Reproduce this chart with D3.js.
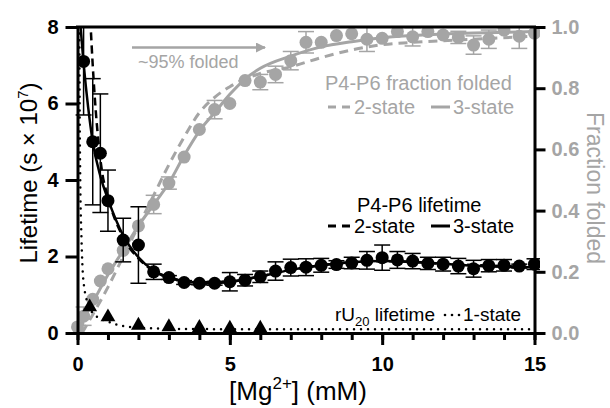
<!DOCTYPE html>
<html>
<head>
<meta charset="utf-8">
<script src="https://cdn.jsdelivr.net/npm/d3@7"></script>
<style>
  body { margin: 0; background: #fff; }
  svg { font-family: "Liberation Sans", Arial, sans-serif; }
</style>
</head>
<body>
<svg id="chart" width="610" height="408"></svg>
<script>
// P4-P6 lifetime data points (s x 10^7)
let lifeMg = [0.2, 0.5, 0.75, 1, 1.5, 2, 2.5, 3, 3.5, 4, 4.5, 5, 5.5, 6, 6.5, 7, 7.5, 8,
  8.5, 9, 9.5, 10, 10.5, 11, 11.5, 12, 12.5, 13, 13.5, 14, 14.5, 15];
let lifeVal = [7.1, 5.0, 4.7, 3.46, 2.43, 2.30, 1.60, 1.45, 1.32, 1.30, 1.30, 1.34, 1.38, 1.47,
  1.62, 1.71, 1.72, 1.77, 1.79, 1.83, 1.90, 1.97, 1.91, 1.88, 1.82, 1.80, 1.75, 1.68, 1.76,
  1.77, 1.75, 1.80];
let lifeErr = [1.4, 1.65, 1.55, 0.8, 0.57, 1.0, 0.2, 0.05, 0.05, 0.04, 0.05, 0.24, 0.15, 0.15,
  0.24, 0.22, 0.22, 0.18, 0.1, 0.15, 0.23, 0.33, 0.22, 0.2, 0.16, 0.18, 0.2, 0.22, 0.16,
  0.15, 0.05, 0.14];

// P4-P6 fraction folded data points
let fracMg = [0, 0.2, 0.5, 0.75, 1, 1.5, 2, 2.5, 3, 3.5, 4, 4.5, 5, 5.5, 6, 6.5, 7, 7.5, 8,
  8.5, 9, 9.5, 10, 10.5, 11, 11.5, 12, 12.5, 13, 13.5, 14, 14.5, 15];
let fracVal = [0.02, 0.055, 0.11, 0.17, 0.21, 0.27, 0.35, 0.42, 0.49, 0.575, 0.665, 0.73, 0.75,
  0.825, 0.82, 0.845, 0.89, 0.95, 0.95, 0.972, 0.978, 0.96, 0.963, 0.985, 0.968, 0.985,
  0.974, 0.966, 0.941, 0.96, 0.99, 0.97, 0.98];
let fracErr = [0, 0.03, 0, 0, 0, 0, 0, 0.03, 0.02, 0, 0, 0.03, 0, 0, 0.025, 0.027, 0.03, 0.035,
  0, 0, 0, 0.04, 0, 0, 0.03, 0, 0, 0.02, 0.03, 0.03, 0, 0.04, 0];

// rU20 lifetime data points
let rUMg = [0.4, 1, 2, 3, 4, 5, 6];
let rUVal = [0.68, 0.42, 0.2, 0.16, 0.14, 0.12, 0.12];

// fitted curves
let life3X = [0.08, 0.2, 0.35, 0.5, 0.75, 1, 1.5, 2, 2.5, 3, 3.5, 4, 4.5, 5, 6, 7, 8, 9, 10,
  11, 12, 13, 14, 15];
let life3Y = [8.2, 7.05, 5.9, 5.0, 4.1, 3.5, 2.55, 1.98, 1.63, 1.45, 1.35, 1.31, 1.30, 1.33,
  1.48, 1.65, 1.77, 1.85, 1.88, 1.86, 1.81, 1.76, 1.73, 1.72];
let life2X = [0.42, 0.5, 0.6, 0.7, 0.8, 1, 1.5, 2, 2.5, 3, 4, 5, 6, 7, 8, 10, 12, 15];
let life2Y = [8.2, 7.0, 5.8, 4.9, 4.25, 3.55, 2.5, 1.95, 1.62, 1.45, 1.33, 1.35, 1.48, 1.65,
  1.77, 1.88, 1.81, 1.72];
let rU1X = [0.06, 0.07, 0.09, 0.13, 0.19, 0.35, 0.6, 1, 1.5, 2, 3, 5, 8, 15];
let rU1Y = [8.2, 6, 4, 2.5, 1.4, 0.75, 0.45, 0.3, 0.18, 0.14, 0.11, 0.1, 0.1, 0.1];
let frac3X = [0, 0.5, 1, 1.5, 2, 2.5, 3, 3.5, 4, 4.5, 5, 5.5, 6, 7, 8, 9, 10, 11, 12, 13, 15];
let frac3Y = [0.01, 0.1, 0.19, 0.27, 0.35, 0.42, 0.49, 0.58, 0.66, 0.72, 0.78, 0.83, 0.865,
  0.905, 0.935, 0.952, 0.965, 0.972, 0.977, 0.98, 0.985];
let frac2X = [0.15, 0.5, 1, 1.5, 2, 2.5, 3, 3.5, 4, 4.5, 5, 5.5, 6, 7, 8, 9, 10, 11, 12, 13, 15];
let frac2Y = [0, 0.06, 0.15, 0.25, 0.35, 0.45, 0.55, 0.64, 0.72, 0.77, 0.805, 0.83, 0.848,
  0.87, 0.9, 0.925, 0.942, 0.95, 0.955, 0.96, 0.97];

let gray = '#a5a5a5';
let svg = d3.select('#chart');

let x = d3.scaleLinear().domain([0, 15]).range([77.5, 534.5]);
let yL = d3.scaleLinear().domain([0, 8]).range([333, 27]);
let yR = d3.scaleLinear().domain([0, 1]).range([333, 27]);

svg.append('defs').append('clipPath')
.attr('id', 'plot')
.append('rect')
.attr('x', 60)
.attr('y', 27)
.attr('width', 480)
.attr('height', 320);

let plot = svg.append('g').attr('clip-path', 'url(#plot)');

function drawLine(xs, ys, yScale, color, width, dash, cap) {
  let pts = xs.map((v, i) => [v, ys[i]]);
  plot.append('path')
  .datum(pts)
  .attr('d', d3.line().x(d => x(d[0])).y(d => yScale(d[1])).curve(d3.curveMonotoneX))
  .attr('fill', 'none')
  .attr('stroke', color)
  .attr('stroke-width', width)
  .attr('stroke-dasharray', dash)
  .attr('stroke-linecap', cap || 'butt');
}

function drawErrors(xs, ys, es, yScale, color) {
  xs.forEach((v, i) => {
    if (!es[i]) return;
    let cx = x(v), top = yScale(ys[i] + es[i]), bot = yScale(ys[i] - es[i]);
    let g = plot.append('g').attr('stroke', color).attr('stroke-width', 1.5);
    g.append('line').attr('x1', cx).attr('x2', cx).attr('y1', top).attr('y2', bot);
    g.append('line').attr('x1', cx - 8).attr('x2', cx + 8).attr('y1', top).attr('y2', top);
    g.append('line').attr('x1', cx - 8).attr('x2', cx + 8).attr('y1', bot).attr('y2', bot);
  });
}

// fraction folded (grey, right axis)
drawErrors(fracMg, fracVal, fracErr, yR, gray);
drawLine(frac2X, frac2Y, yR, gray, 3, '9,6');
drawLine(frac3X, frac3Y, yR, gray, 3, null);
plot.append('g')
.selectAll('circle')
.data(fracMg)
.join('circle')
.attr('cx', d => x(d))
.attr('cy', (d, i) => yR(fracVal[i]))
.attr('r', 6.5)
.attr('fill', gray);

// lifetimes (black, left axis)
drawLine(rU1X, rU1Y, yL, '#000', 2.5, '0,7', 'round');
drawLine(life2X, life2Y, yL, '#000', 2.5, '8,5');
drawLine(life3X, life3Y, yL, '#000', 2.5, null);
drawErrors(lifeMg, lifeVal, lifeErr, yL, '#000');
plot.append('g')
.selectAll('circle')
.data(lifeMg)
.join('circle')
.attr('cx', d => x(d))
.attr('cy', (d, i) => yL(lifeVal[i]))
.attr('r', 6.5)
.attr('fill', '#000');
plot.append('g')
.selectAll('path')
.data(rUMg)
.join('path')
.attr('d', d3.symbol().type(d3.symbolTriangle).size(95))
.attr('transform', (d, i) => 'translate(' + x(d) + ',' + yL(rUVal[i]) + ')')
.attr('fill', '#000');

// axes
function styleAxis(g, color) {
  g.selectAll('path, line').attr('stroke', '#000').attr('stroke-width', 3);
  g.selectAll('text')
  .attr('fill', color)
  .style('font-size', '20px')
  .style('font-weight', 'bold')
  .style('font-family', '"Liberation Sans", Arial, sans-serif');
}

svg.append('line')
.attr('x1', 76).attr('x2', 536)
.attr('y1', 27).attr('y2', 27)
.attr('stroke', '#000').attr('stroke-width', 3);

svg.append('g')
.attr('transform', 'translate(0,333)')
.call(d3.axisBottom(x).tickValues(d3.range(0, 16)).tickSize(7).tickSizeOuter(0).tickFormat(''))
.call(g => styleAxis(g, '#000'));

svg.append('g')
.attr('transform', 'translate(0,333)')
.call(d3.axisBottom(x).tickValues([0, 5, 10, 15]).tickSize(12).tickSizeOuter(0).tickPadding(12))
.call(g => styleAxis(g, '#000'));

svg.append('g')
.attr('transform', 'translate(77.5,0)')
.call(d3.axisLeft(yL).tickValues([0, 2, 4, 6, 8]).tickSize(12).tickSizeOuter(0).tickPadding(7))
.call(g => styleAxis(g, '#000'));

svg.append('g')
.attr('transform', 'translate(534.5,0)')
.call(d3.axisRight(yR).tickValues([0, 0.2, 0.4, 0.6, 0.8, 1]).tickSize(11).tickSizeOuter(0)
  .tickPadding(6).tickFormat(d3.format('.1f')))
.call(g => styleAxis(g, gray));

// axis titles
let yTitle = svg.append('text')
.attr('transform', 'translate(37,173) rotate(-90)')
.attr('text-anchor', 'middle')
.style('font-size', '24px')
.attr('fill', '#000');
yTitle.append('tspan').text('Lifetime (s × 10');
yTitle.append('tspan').attr('dy', -9).style('font-size', '15px').text('7');
yTitle.append('tspan').attr('dy', 9).text(')');

let xTitle = svg.append('text')
.attr('x', 298)
.attr('y', 400)
.attr('text-anchor', 'middle')
.style('font-size', '26px')
.attr('fill', '#000');
xTitle.append('tspan').text('[Mg');
xTitle.append('tspan').attr('dy', -11).style('font-size', '17px').text('2+');
xTitle.append('tspan').attr('dy', 11).text('] (mM)');

svg.append('text')
.attr('transform', 'translate(587,188) rotate(90)')
.attr('text-anchor', 'middle')
.style('font-size', '23px')
.attr('fill', gray)
.text('Fraction folded');

// ~95% folded arrow
svg.append('defs').append('marker')
.attr('id', 'head')
.attr('viewBox', '0 0 10 10')
.attr('refX', 9).attr('refY', 5)
.attr('markerWidth', 10).attr('markerHeight', 10)
.attr('markerUnits', 'userSpaceOnUse')
.attr('orient', 'auto')
.append('path')
.attr('d', 'M0,0 L10,5 L0,10 Z')
.attr('fill', gray);

svg.append('line')
.attr('x1', 132).attr('x2', 265)
.attr('y1', 47.5).attr('y2', 47.5)
.attr('stroke', gray).attr('stroke-width', 2.5)
.attr('marker-end', 'url(#head)');

svg.append('text')
.attr('x', 138).attr('y', 68)
.style('font-size', '18px')
.attr('fill', gray)
.text('~95% folded');

// legends
function legendRow(yy, color) {
  let g = svg.append('g').attr('fill', color).style('font-size', '20px');
  g.append('line').attr('x1', 328).attr('x2', 352).attr('y1', yy).attr('y2', yy)
  .attr('stroke', color).attr('stroke-width', 3).attr('stroke-dasharray', '8,6');
  g.append('text').attr('x', 354).attr('y', yy + 7).text('2-state');
  g.append('line').attr('x1', 431).attr('x2', 450).attr('y1', yy).attr('y2', yy)
  .attr('stroke', color).attr('stroke-width', 3);
  g.append('text').attr('x', 453).attr('y', yy + 7).text('3-state');
}

svg.append('text')
.attr('x', 325).attr('y', 90)
.style('font-size', '20px')
.attr('fill', gray)
.text('P4-P6 fraction folded');
legendRow(107, gray);

svg.append('text')
.attr('x', 357).attr('y', 212)
.style('font-size', '20px')
.attr('fill', '#000')
.text('P4-P6 lifetime');
legendRow(226, '#000');

let rUText = svg.append('text')
.attr('x', 435).attr('y', 321)
.attr('text-anchor', 'end')
.style('font-size', '19px')
.attr('fill', '#000');
rUText.append('tspan').text('rU');
rUText.append('tspan').attr('dy', 5).style('font-size', '13px').text('20');
rUText.append('tspan').attr('dy', -5).text(' lifetime');
svg.append('g')
.selectAll('circle')
.data([0, 1, 2])
.join('circle')
.attr('cx', d => 445 + d * 7)
.attr('cy', 315)
.attr('r', 1.3)
.attr('fill', '#000');
svg.append('text')
.attr('x', 463).attr('y', 321)
.style('font-size', '19px')
.attr('fill', '#000')
.text('1-state');
</script>
</body>
</html>
